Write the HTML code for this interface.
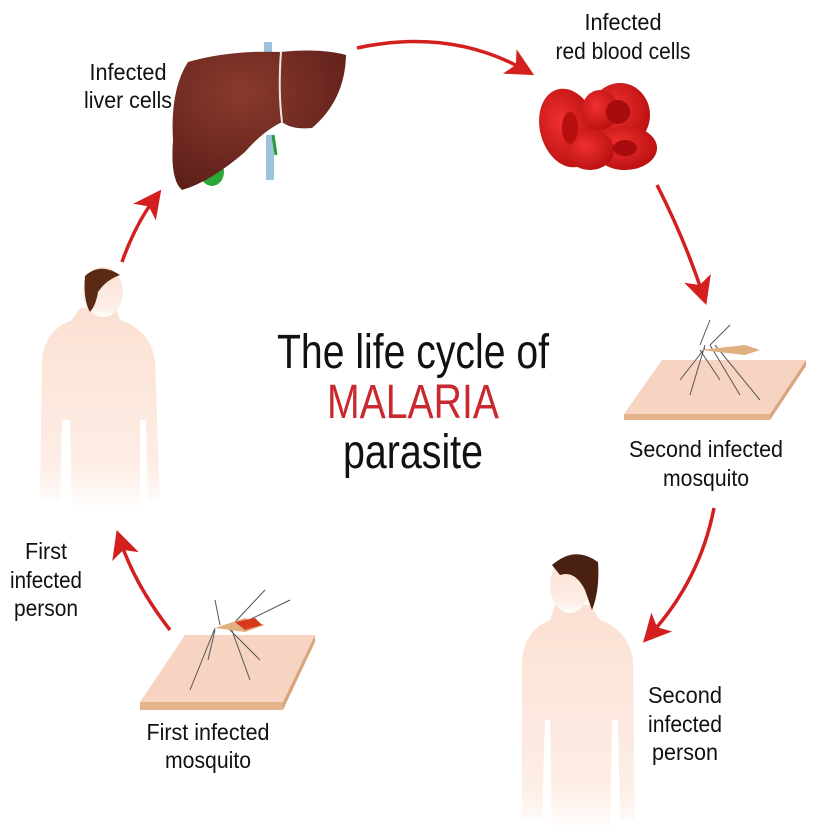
<!DOCTYPE html>
<html><head><meta charset="utf-8"><style>
html,body{margin:0;padding:0;background:#fff;}
svg{display:block;}
text{font-family:"Liberation Sans",sans-serif;fill:#111;}
</style></head><body>
<svg width="824" height="834" viewBox="0 0 824 834" xmlns="http://www.w3.org/2000/svg">
<defs>
<marker id="ah" markerWidth="8" markerHeight="8" refX="5" refY="4" orient="auto" markerUnits="strokeWidth">
<path d="M0,0 L8,4 L0,8 L2,4 Z" fill="#d41f1f"/></marker>
<radialGradient id="lv" cx="0.4" cy="0.3" r="0.8"><stop offset="0" stop-color="#8a3a2e"/><stop offset="1" stop-color="#5a1d17"/></radialGradient>
<radialGradient id="rb" cx="0.4" cy="0.4" r="0.7"><stop offset="0" stop-color="#f03030"/><stop offset="1" stop-color="#b50d0d"/></radialGradient>
<linearGradient id="sk" x1="0" y1="0" x2="0" y2="1"><stop offset="0" stop-color="#fbe0d2"/><stop offset="0.8" stop-color="#fdeee6"/><stop offset="1" stop-color="#fff"/></linearGradient>
</defs>

<g fill="none" stroke="#d41f1f" stroke-width="3.5">
<path d="M122,262 Q135,225 155,198" marker-end="url(#ah)"/>
<path d="M357,48 Q450,28 525,70" marker-end="url(#ah)"/>
<path d="M657,185 Q685,240 703,295" marker-end="url(#ah)"/>
<path d="M714,508 Q700,580 650,635" marker-end="url(#ah)"/>
<path d="M170,630 Q135,585 120,540" marker-end="url(#ah)"/>
</g>

<!-- liver -->
<rect x="264" y="42" width="8" height="20" fill="#9cc3dc"/>
<rect x="266" y="135" width="8" height="45" fill="#9cc3dc"/>
<path d="M273,135 L276,155" stroke="#2a9a3a" stroke-width="3"/>
<ellipse cx="212" cy="172" rx="12" ry="14" fill="#2aa83a"/>
<path d="M188,62 Q230,50 280,52 Q320,48 346,55 Q345,100 312,128 Q292,130 282,122 Q262,132 245,152 Q210,182 182,190 Q170,180 173,140 Q170,90 188,62 Z" fill="url(#lv)"/>
<path d="M281,52 Q278,90 282,122" stroke="#f0e6e0" stroke-width="2" fill="none"/>

<!-- RBCs -->
<g>
<ellipse cx="568" cy="128" rx="28" ry="40" fill="url(#rb)" transform="rotate(-15 568 128)"/>
<ellipse cx="620" cy="115" rx="30" ry="32" fill="url(#rb)"/>
<ellipse cx="625" cy="148" rx="32" ry="22" fill="url(#rb)"/>
<ellipse cx="590" cy="150" rx="24" ry="20" fill="url(#rb)"/>
<ellipse cx="600" cy="110" rx="18" ry="20" fill="url(#rb)"/>
<ellipse cx="618" cy="112" rx="12" ry="12" fill="#a80c0c"/>
<ellipse cx="625" cy="148" rx="12" ry="8" fill="#a80c0c"/>
<ellipse cx="570" cy="128" rx="8" ry="16" fill="#b80e0e"/>
</g>

<!-- person 1 -->
<g fill="url(#sk)">
<path d="M80,308 L72,320 Q45,330 42,360 L40,500 L60,500 L62,420 L70,420 L72,510 L140,510 L140,420 L146,420 L148,500 L160,500 L155,360 Q150,330 120,320 L115,305 Z"/>
<ellipse cx="103" cy="292" rx="20" ry="25"/>
</g>
<path d="M85,276 Q100,262 120,275 Q106,280 98,292 Q96,305 90,312 Q83,300 85,276 Z" fill="#5b2a14"/>

<!-- person 2 -->
<g fill="url(#sk)">
<path d="M555,605 L550,620 Q525,630 522,660 L522,820 L542,820 L545,720 L550,720 L552,834 L610,834 L612,720 L618,720 L620,820 L635,820 L633,660 Q628,630 600,620 L590,605 Z"/>
<ellipse cx="570" cy="585" rx="20" ry="28"/>
</g>
<path d="M552,565 Q575,545 598,562 Q600,590 592,610 L585,590 Q575,570 560,575 Z" fill="#4a2010"/>

<!-- pad 2 & mosquito -->
<path d="M662,360 L806,360 L770,414 L624,414 Z" fill="#f7d4c2"/>
<path d="M624,414 L770,414 L770,420 L624,420 Z" fill="#e3b38a"/>
<path d="M770,414 L806,360 L806,366 L770,420 Z" fill="#d9a57c"/>
<g stroke="#555" stroke-width="1" fill="none">
<path d="M700,350 L720,380 M705,345 L690,395 M710,345 L740,395 M715,345 L760,400 M700,345 L710,320 M710,345 L730,325 M705,348 L680,380"/>
</g>
<path d="M700,350 L745,345 L760,350 L745,355 Z" fill="#e0b080"/>

<!-- pad 1 & mosquito -->
<path d="M185,635 L315,635 L283,702 L140,702 Z" fill="#f7d4c2"/>
<path d="M140,702 L283,702 L283,710 L140,710 Z" fill="#e3b38a"/>
<path d="M283,702 L315,635 L315,642 L283,710 Z" fill="#d9a57c"/>
<g stroke="#555" stroke-width="1" fill="none">
<path d="M215,630 L208,660 M215,628 L190,690 M225,625 L260,660 M230,625 L250,680 M220,625 L215,600 M235,622 L265,590 M245,622 L290,600"/>
</g>
<path d="M215,628 L245,618 L265,625 L245,632 Z" fill="#e0b080"/>
<path d="M235,622 L255,618 L262,625 L245,630 Z" fill="#d63a1a"/>

<!-- text -->
<g font-size="23" lengthAdjust="spacingAndGlyphs">
<text x="128" y="80" text-anchor="middle" textLength="77" lengthAdjust="spacingAndGlyphs">Infected</text>
<text x="128" y="108" text-anchor="middle" textLength="88" lengthAdjust="spacingAndGlyphs">liver cells</text>
<text x="623" y="30" text-anchor="middle" textLength="77" lengthAdjust="spacingAndGlyphs">Infected</text>
<text x="623" y="59" text-anchor="middle" textLength="135" lengthAdjust="spacingAndGlyphs">red blood cells</text>
<text x="706" y="457" text-anchor="middle" textLength="154" lengthAdjust="spacingAndGlyphs">Second infected</text>
<text x="706" y="486" text-anchor="middle" textLength="86" lengthAdjust="spacingAndGlyphs">mosquito</text>
<text x="46" y="559" text-anchor="middle" textLength="42" lengthAdjust="spacingAndGlyphs">First</text>
<text x="46" y="588" text-anchor="middle" textLength="72" lengthAdjust="spacingAndGlyphs">infected</text>
<text x="46" y="616" text-anchor="middle" textLength="64" lengthAdjust="spacingAndGlyphs">person</text>
<text x="208" y="740" text-anchor="middle" textLength="123" lengthAdjust="spacingAndGlyphs">First infected</text>
<text x="208" y="768" text-anchor="middle" textLength="86" lengthAdjust="spacingAndGlyphs">mosquito</text>
<text x="685" y="703" text-anchor="middle" textLength="74" lengthAdjust="spacingAndGlyphs">Second</text>
<text x="685" y="732" text-anchor="middle" textLength="74" lengthAdjust="spacingAndGlyphs">infected</text>
<text x="685" y="760" text-anchor="middle" textLength="66" lengthAdjust="spacingAndGlyphs">person</text>
</g>
<text x="413" y="368" text-anchor="middle" font-size="48" textLength="272" lengthAdjust="spacingAndGlyphs">The life cycle of</text>
<text x="413" y="418" text-anchor="middle" font-size="48" textLength="172" lengthAdjust="spacingAndGlyphs" style="fill:#c8282e">MALARIA</text>
<text x="413" y="468" text-anchor="middle" font-size="48" textLength="140" lengthAdjust="spacingAndGlyphs">parasite</text>
</svg>
</body></html>
